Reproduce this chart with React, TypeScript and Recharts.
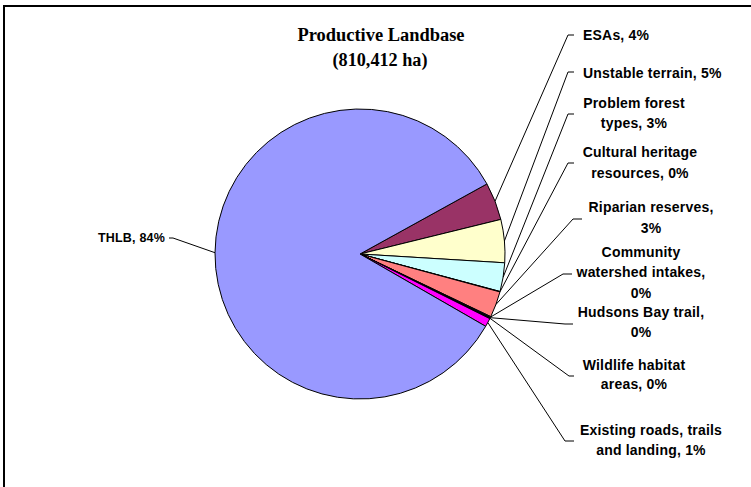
import { PieChart, Pie, Cell } from 'recharts';

const CATEGORIES = [
  'ESAs',
  'Unstable terrain',
  'Problem forest types',
  'Cultural heritage resources',
  'Riparian reserves',
  'Community watershed intakes',
  'Hudsons Bay trail',
  'Wildlife habitat areas',
  'Existing roads, trails and landing',
  'THLB',
];

// hectares (total 810,412 ha)
const AREAS = [34000, 38900, 25900, 400, 23500, 800, 400, 800, 7700, 678012];

// label text broken the way the original wraps it; {p} = rounded percent
const LABEL_LINES = [
  ['ESAs, {p}'],
  ['Unstable terrain, {p}'],
  ['Problem forest', 'types, {p}'],
  ['Cultural heritage', 'resources, {p}'],
  ['Riparian reserves,', '{p}'],
  ['Community', 'watershed intakes,', '{p}'],
  ['Hudsons Bay trail,', '{p}'],
  ['Wildlife habitat', 'areas, {p}'],
  ['Existing roads, trails', 'and landing, {p}'],
  ['THLB, {p}'],
];

const COLORS = [
  '#993366', '#FFFFCC', '#CCFFFF', '#660066', '#FF8080',
  '#0066CC', '#CCCCFF', '#000080', '#FF00FF', '#9999FF',
];

// where each leader line bends and where its text sits
const LABEL_LAYOUT = [
  { ex: 568, end: 574, y: 35, tx: 583, anchor: 'start', ys: [35], fs: 14 },
  { ex: 568, end: 574, y: 72, tx: 583, anchor: 'start', ys: [73], fs: 14 },
  { ex: 568, end: 574, y: 114, tx: 634, anchor: 'middle', ys: [103, 123], fs: 14 },
  { ex: 568, end: 574, y: 163, tx: 640, anchor: 'middle', ys: [152, 173], fs: 14 },
  { ex: 573, end: 582, y: 219, tx: 651, anchor: 'middle', ys: [207, 228], fs: 14 },
  { ex: 563, end: 572, y: 274, tx: 641, anchor: 'middle', ys: [252, 272, 293], fs: 14 },
  { ex: 565, end: 573, y: 324, tx: 641, anchor: 'middle', ys: [312, 332], fs: 14 },
  { ex: 569, end: 574, y: 376, tx: 634, anchor: 'middle', ys: [365, 384], fs: 14 },
  { ex: 565, end: 574, y: 441, tx: 651, anchor: 'middle', ys: [430, 450], fs: 14 },
  { ex: 173, end: 169, y: 238, tx: 165, anchor: 'end', ys: [238], fs: 12.5 },
];

const data = CATEGORIES.map((name, i) => ({ name, value: AREAS[i] }));

const RAD = Math.PI / 180;

const renderLabel = (props: any) => {
  const { cx, cy, midAngle, outerRadius, percent = 0, index } = props;
  const lay = LABEL_LAYOUT[index];
  const sx = cx + outerRadius * Math.cos(-midAngle * RAD);
  const sy = cy + outerRadius * Math.sin(-midAngle * RAD);
  const pct = `${Math.round(percent * 100)}%`;
  return (
    <g key={`lbl-${index}`}>
      <polyline
        points={`${sx},${sy} ${lay.ex},${lay.y} ${lay.end},${lay.y}`}
        fill="none"
        stroke="#000"
        strokeWidth={1}
      />
      {LABEL_LINES[index].map((line, j) => (
        <text
          key={j}
          x={lay.tx}
          y={lay.ys[j]}
          textAnchor={lay.anchor as any}
          dominantBaseline="central"
          fontFamily="'Liberation Sans', Arial, sans-serif"
          fontWeight="bold"
          fontSize={lay.fs}
          letterSpacing={0.2}
          fill="#000"
        >
          {line.replace('{p}', pct)}
        </text>
      ))}
    </g>
  );
};

const App = () => {
  return (
    <div style={{ position: 'absolute', left: 0, top: 0, width: 751, height: 487, background: '#fff' }}>
      <PieChart width={751} height={487} margin={{ top: 0, right: 0, bottom: 0, left: 0 }}>
        <Pie
          data={data}
          dataKey="value"
          nameKey="name"
          cx={360}
          cy={254}
          outerRadius={145}
          startAngle={28.9}
          endAngle={-331.1}
          stroke="#000"
          strokeWidth={1}
          label={renderLabel}
          labelLine={false}
          isAnimationActive={false}
        >
          {data.map((entry, index) => (
            <Cell key={`cell-${index}`} fill={COLORS[index]} />
          ))}
        </Pie>
      </PieChart>
      <svg
        width={751}
        height={487}
        style={{ position: 'absolute', left: 0, top: 0, pointerEvents: 'none' }}
      >
        <rect x={4} y={6} width={800} height={600} fill="none" stroke="#000" strokeWidth={2} />
        <text
          x={381}
          y={35}
          textAnchor="middle"
          dominantBaseline="central"
          fontFamily="'Liberation Serif', 'Times New Roman', serif"
          fontWeight="bold"
          fontSize={18}
          textLength={167}
          lengthAdjust="spacingAndGlyphs"
        >
          Productive Landbase
        </text>
        <text
          x={380}
          y={60}
          textAnchor="middle"
          dominantBaseline="central"
          fontFamily="'Liberation Serif', 'Times New Roman', serif"
          fontWeight="bold"
          fontSize={18}
          textLength={95}
          lengthAdjust="spacingAndGlyphs"
        >
          (810,412 ha)
        </text>
      </svg>
    </div>
  );
};

export default App;
